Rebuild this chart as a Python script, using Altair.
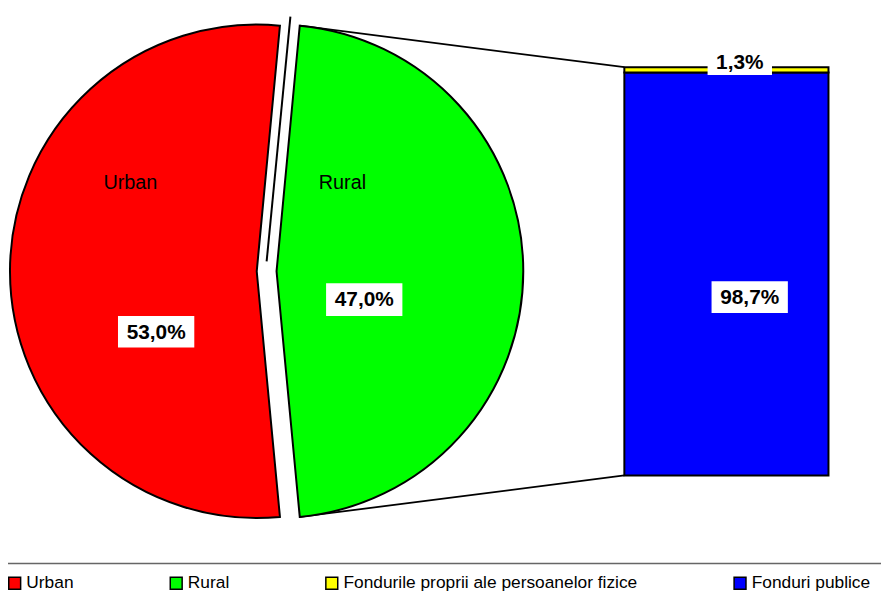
import math
import altair as alt
import pandas as pd

# ---- data ----
pie_categories = ["Rural", "Urban"]          # clockwise from the split edge
pie_values = [47.0, 53.0]
bar_categories = ["Fonduri publice", "Fondurile proprii ale persoanelor fizice"]
bar_values = [98.7, 1.3]
legend_order = ["Urban", "Rural", "Fondurile proprii ale persoanelor fizice", "Fonduri publice"]
legend_colors = ["#FF0000", "#00FF00", "#FFFF00", "#0000FF"]


def pct(v):
    return f"{v:.1f}%".replace(".", ",")


pie_df = pd.DataFrame({"category": pie_categories, "value": pie_values})
pie_df["end"] = pie_df["value"].cumsum()
pie_df["start"] = pie_df["end"] - pie_df["value"]

bar_df = pd.DataFrame({"category": bar_categories, "value": bar_values})
bar_df["end"] = bar_df["value"].cumsum()
bar_df["start"] = bar_df["end"] - bar_df["value"]

# ---- geometry ----
W, H = 881, 589
R = 249
red_c = (251, 263)
green_c = (271, 263)
theta0 = math.pi / 2 - math.radians(pie_values[0] / 100 * 180)
bar_x1, bar_x2 = 622, 828
bar_top, bar_bot = 57, 469

color = alt.Color(
    "category:N",
    scale=alt.Scale(domain=legend_order, range=legend_colors),
    legend=alt.Legend(
        title=None, orient="none", legendX=-2, legendY=569, padding=0,
        direction="horizontal", columns=4, columnPadding=93,
        symbolType="square", symbolSize=144, symbolStrokeColor="black",
        symbolStrokeWidth=1.5, symbolOpacity=1,
        labelFont="Liberation Sans", labelFontSize=17.5, labelColor="black",
        labelOffset=3, labelLimit=0,
    ),
)
theta_scale = alt.Scale(domain=[0, 100], range=[theta0, theta0 + 2 * math.pi])

layers = []

# connectors from the green slice to the bar
tx = green_c[0] + R * math.sin(theta0)
ty_top = green_c[1] - R * math.cos(theta0)
ty_bot = green_c[1] + R * math.cos(theta0)
one = pd.DataFrame({"k": [0]})
for (ya, yb) in [(ty_top, bar_top), (ty_bot, bar_bot)]:
    layers.append(
        alt.Chart(one).mark_rule(color="black", strokeWidth=1.8).encode(
            x=alt.value(tx), y=alt.value(ya), x2=alt.value(bar_x1), y2=alt.value(yb)
        )
    )

# pie slices
for cat, c in [("Urban", red_c), ("Rural", green_c)]:
    layers.append(
        alt.Chart(pie_df)
        .transform_filter(alt.datum.category == cat)
        .mark_arc(stroke="black", strokeWidth=2, outerRadius=R, strokeJoin="miter")
        .encode(
            theta=alt.Theta("start:Q", scale=theta_scale),
            theta2="end:Q",
            color=color,
            x=alt.value(c[0]),
            y=alt.value(c[1]),
        )
    )

# stray edge line between slices
layers.append(
    alt.Chart(one).mark_rule(color="black", strokeWidth=2).encode(
        x=alt.value(285), y=alt.value(6), x2=alt.value(261), y2=alt.value(253)
    )
)

# bar of pie
layers.append(
    alt.Chart(bar_df)
    .mark_bar(stroke="black", strokeWidth=2)
    .encode(
        x=alt.value(bar_x1),
        x2=alt.value(bar_x2),
        y=alt.Y("start:Q", scale=alt.Scale(domain=[0, 100], range=[bar_bot, bar_top]), axis=None),
        y2="end:Q",
        color=color,
    )
)

# category name labels
for name, (x, y) in [("Urban", (123.5, 174)), ("Rural", (337.5, 174))]:
    layers.append(
        alt.Chart(pd.DataFrame({"t": [name]}))
        .mark_text(font="Liberation Sans", fontSize=20, color="black", align="center", baseline="middle")
        .encode(text="t:N", x=alt.value(x), y=alt.value(y))
    )

# percentage labels with white boxes
pct_labels = [
    (pct(pie_values[1]), (111, 188, 308, 340)),
    (pct(pie_values[0]), (321, 398, 275, 308)),
    (pct(bar_values[0]), (710, 787, 273, 305)),
    (pct(bar_values[1]), (706, 771, 38, 65)),
]
for text, (x1, x2, y1, y2) in pct_labels:
    d = pd.DataFrame({"t": [text]})
    layers.append(
        alt.Chart(d).mark_rect(fill="white").encode(
            x=alt.value(x1), x2=alt.value(x2), y=alt.value(y1), y2=alt.value(y2)
        )
    )
    layers.append(
        alt.Chart(d)
        .mark_text(font="Liberation Sans", fontSize=21, fontWeight="bold", color="black",
                   align="center", baseline="middle")
        .encode(text="t:N", x=alt.value((x1 + x2) / 2), y=alt.value((y1 + y2) / 2 + 1))
    )

# separator line above the legend
layers.append(
    alt.Chart(one).mark_rule(color="#666666", strokeWidth=1.5).encode(
        x=alt.value(0), x2=alt.value(W), y=alt.value(558)
    )
)

chart = (
    alt.layer(*layers)
    .properties(width=W, height=H, padding=0, autosize=alt.AutoSizeParams(type="none"))
    .configure_view(stroke=None)
)

chart.save("out.html", embed_options={"renderer": "svg", "actions": False})
